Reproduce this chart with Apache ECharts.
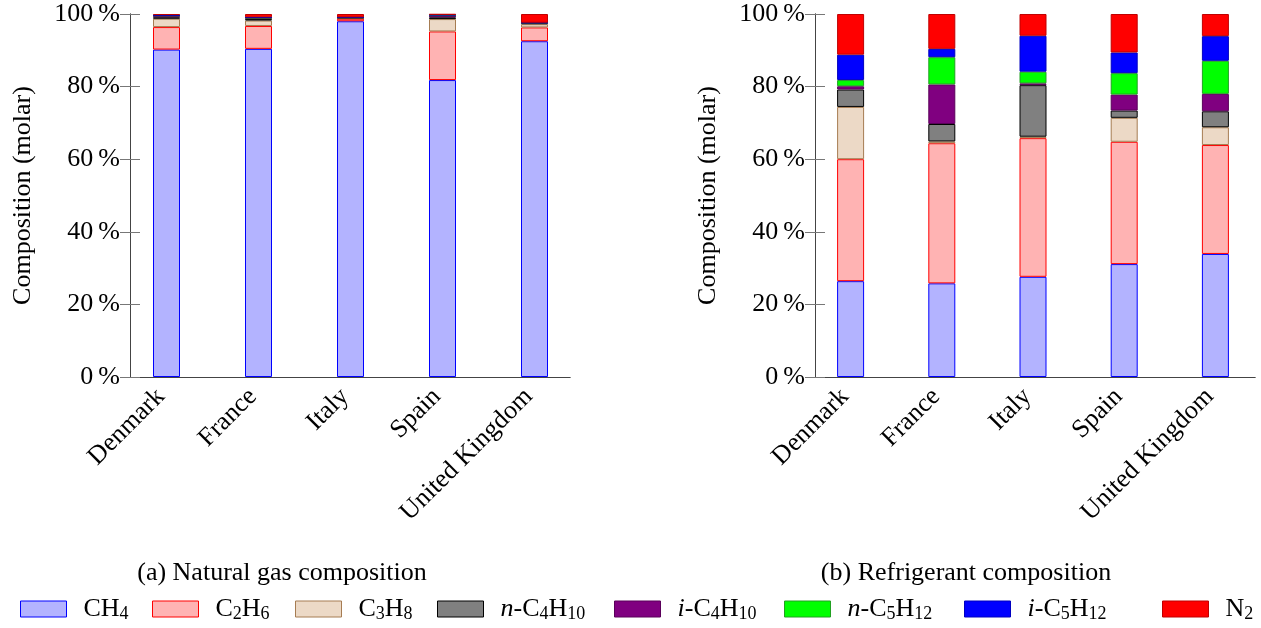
<!DOCTYPE html>
<html>
<head>
<meta charset="utf-8">
<script src="https://cdn.jsdelivr.net/npm/echarts@6/dist/echarts.min.js"></script>
<style>
html,body{margin:0;padding:0;background:#fff;}
#chart{width:1261px;height:628px;}
</style>
</head>
<body>
<div id="chart"></div>
<script>
// ---------- data ----------
const categories = ['Denmark', 'France', 'Italy', 'Spain', 'United Kingdom'];
const components = ['CH4', 'C2H6', 'C3H8', 'n-C4H10', 'i-C4H10', 'n-C5H12', 'i-C5H12', 'N2'];
const componentLabels = ['CH{s|4}', 'C{s|2}H{s|6}', 'C{s|3}H{s|8}', '{i|n}-C{s|4}H{s|10}',
  '{i|i}-C{s|4}H{s|10}', '{i|n}-C{s|5}H{s|12}', '{i|i}-C{s|5}H{s|12}', 'N{s|2}'];
const yTicks = [0, 20, 40, 60, 80, 100];
const captions = ['(a) Natural gas composition', '(b) Refrigerant composition'];
const yAxisTitle = 'Composition (molar)';

// (a) natural gas, % molar
const gasCH4  = [90.2, 90.4, 98.0, 81.8, 92.5];
const gasC2H6 = [6.2, 6.3, 0.7, 13.4, 3.8];
const gasC3H8 = [2.3, 1.5, 0.2, 3.4, 0.9];
const gasNC4  = [0.4, 0.4, 0.1, 0.5, 0.3];
const gasIC4  = [0.4, 0.3, 0.1, 0.5, 0.1];
const gasNC5  = [0.1, 0.1, 0.0, 0.1, 0.0];
const gasIC5  = [0.1, 0.1, 0.0, 0.1, 0.0];
const gasN2   = [0.3, 0.9, 0.9, 0.2, 2.4];

// (b) refrigerant, % molar
const refCH4  = [26.4, 25.8, 27.6, 31.1, 33.9];
const refC2H6 = [33.6, 38.6, 38.2, 33.7, 30.0];
const refC3H8 = [14.4, 0.5, 0.4, 6.6, 4.9];
const refNC4  = [4.8, 4.8, 14.2, 2.0, 4.4];
const refIC4  = [0.9, 10.9, 0.5, 4.4, 4.8];
const refNC5  = [1.7, 7.5, 3.2, 5.9, 9.1];
const refIC5  = [7.0, 2.3, 9.9, 5.7, 6.8];
const refN2   = [11.2, 9.6, 6.0, 10.6, 6.1];

const gasData = [gasCH4, gasC2H6, gasC3H8, gasNC4, gasIC4, gasNC5, gasIC5, gasN2];
const refData = [refCH4, refC2H6, refC3H8, refNC4, refIC4, refNC5, refIC5, refN2];

// ---------- styles ----------
const fills   = ['#b3b3ff', '#ffb3b3', '#ecd9c6', '#808080', '#800080', '#00ff00', '#0000ff', '#ff0000'];
const borders = ['#0000ff', '#ff0000', '#a67c52', '#000000', '#5a005a', '#22a022', '#0000c0', '#c00000'];
const FONT = 'Liberation Serif';
const FS = 26;
const richStyles = {
  s: { fontSize: 18, lineHeight: 18, padding: [9, 0, 0, 0], verticalAlign: 'top', fontFamily: FONT, color: '#000' },
  i: { fontStyle: 'italic', fontSize: FS, fontFamily: FONT, color: '#000' }
};

const chart = echarts.init(document.getElementById('chart'), null, { renderer: 'canvas' });

const panels = [
  { frameLeft: 130, barsLeft: 120.5, data: gasData },
  { frameLeft: 815, barsLeft: 805, data: refData }
];
const TOP = 14, HEIGHT = 363;

const grid = [], xAxis = [], yAxis = [], series = [];
panels.forEach((p, pi) => {
  const gFrame = grid.length;
  grid.push({ left: p.frameLeft, top: TOP, width: 440, height: HEIGHT, containLabel: false });
  const gBars = grid.length;
  grid.push({ left: p.barsLeft, top: TOP, width: 460, height: HEIGHT, containLabel: false });

  const frameLine = { show: true, lineStyle: { color: '#444', width: 1 } };
  ['bottom', 'top'].forEach(pos => {
    xAxis.push({ type: 'value', gridIndex: gFrame, position: pos, min: 0, max: 1, z: 5,
      axisLine: frameLine, axisTick: { show: false }, axisLabel: { show: false }, splitLine: { show: false } });
  });
  yAxis.push({ type: 'value', gridIndex: gFrame, position: 'left', min: 0, max: 100, interval: 20, z: 5,
    axisLine: frameLine,
    axisTick: { show: true, inside: true, length: 10, lineStyle: { color: '#777', width: 1 } },
    axisLabel: { show: true, margin: 10, color: '#000', fontFamily: FONT, fontSize: FS,
      formatter: v => yTicks.indexOf(v) >= 0 ? v + '\u2009%' : '' },
    splitLine: { show: false },
    name: yAxisTitle, nameLocation: 'middle', nameGap: 94, nameRotate: 90,
    nameTextStyle: { color: '#000', fontFamily: FONT, fontSize: FS }
  });
  yAxis.push({ type: 'value', gridIndex: gFrame, position: 'right', min: 0, max: 100, interval: 20, z: 5,
    axisLine: frameLine,
    axisTick: { show: true, inside: true, length: 10, lineStyle: { color: '#777', width: 1 } },
    axisLabel: { show: false }, splitLine: { show: false } });

  const xBars = xAxis.length;
  xAxis.push({ type: 'category', gridIndex: gBars, data: categories, position: 'bottom',
    axisLine: { show: false }, axisTick: { show: false }, splitLine: { show: false },
    axisLabel: { interval: 0, rotate: 45, margin: 10, padding: [0, 8, 0, 0], color: '#000', fontFamily: FONT, fontSize: FS } });
  const yBars = yAxis.length;
  yAxis.push({ type: 'value', gridIndex: gBars, min: 0, max: 100, show: false, splitLine: { show: false } });

  components.forEach((c, k) => {
    series.push({
      type: 'bar', name: c, stack: 'panel' + pi, xAxisIndex: xBars, yAxisIndex: yBars,
      barWidth: 27, data: p.data[k], z: 2,
      itemStyle: { color: fills[k], borderColor: borders[k], borderWidth: 1 },
      emphasis: { disabled: true }
    });
  });
});

// legend: one component per entry
const legendLeft = [20, 152, 295, 437, 614, 784, 964, 1162];
const legend = components.map((c, k) => ({
  data: [c], left: legendLeft[k], top: 596, padding: 0,
  icon: 'rect', itemWidth: 46, itemHeight: 16, selectedMode: false,
  itemStyle: { borderWidth: 1 },
  formatter: () => componentLabels[k],
  textStyle: { color: '#000', fontFamily: FONT, fontSize: FS, padding: [0, 0, 0, 12], rich: richStyles }
}));

const captionX = [282, 966];
const graphic = captions.map((t, i) => ({
  type: 'text', x: captionX[i], y: 573,
  style: { text: t, fill: '#000', font: '26px "' + FONT + '"', textAlign: 'center', textVerticalAlign: 'middle' }
}));

chart.setOption({
  animation: false,
  backgroundColor: '#fff',
  grid, xAxis, yAxis, series, legend, graphic
});
</script>
</body>
</html>
